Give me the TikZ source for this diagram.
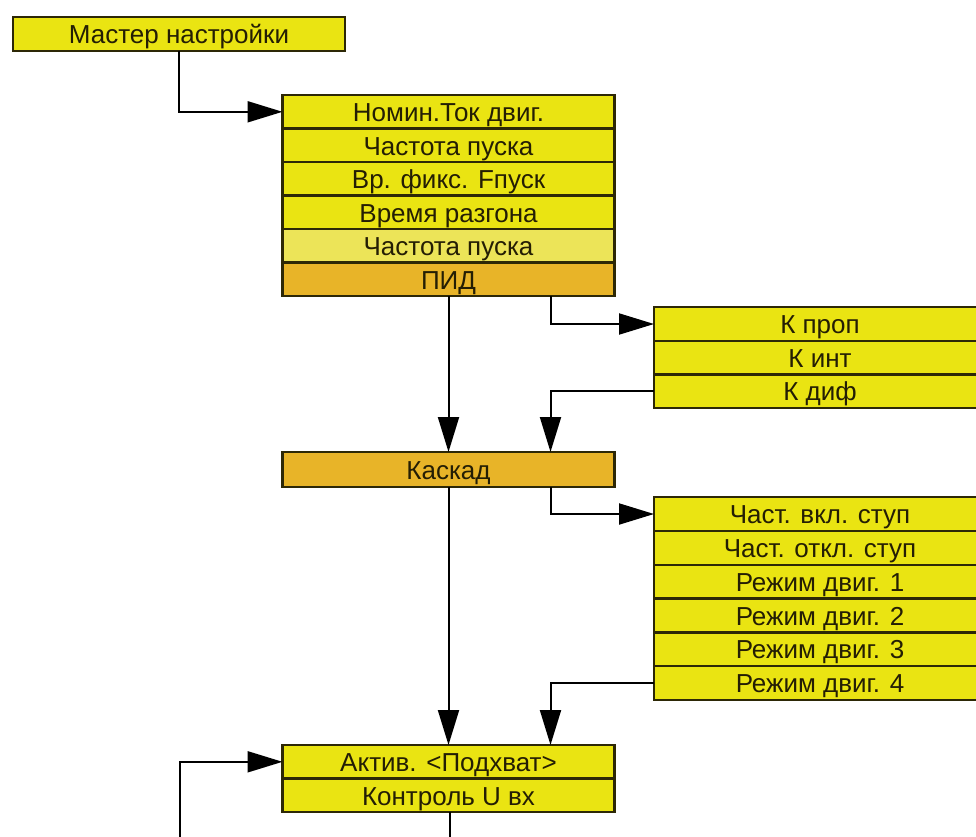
\documentclass[tikz,border=0pt]{standalone}
\usepackage{fontspec}
\setmainfont{Liberation Sans}
\usetikzlibrary{arrows.meta}
\definecolor{boxyellow}{RGB}{234,228,18}
\definecolor{paleyellow}{RGB}{236,228,88}
\definecolor{boxorange}{RGB}{232,180,40}
\definecolor{edgecol}{RGB}{45,40,6}
\definecolor{txtcol}{RGB}{36,30,4}
\tikzset{
  cell/.style={draw=edgecol, line width=2.2pt, fill=boxyellow, rectangle,
    inner sep=0pt, outer sep=0pt, minimum width=332pt, minimum height=33.6pt,
    text height=22.5pt, text depth=3pt,
    text=txtcol, font=\fontsize{26}{26}\selectfont},
  palecell/.style={cell, fill=paleyellow},
  hicell/.style={cell, fill=boxorange},
  link/.style={draw=black, line width=2pt},
  flow/.style={link, -{Triangle[length=35pt,width=21pt]}}
}
\begin{document}
\begin{tikzpicture}[x=1pt,y=-1pt]
\useasboundingbox (0,0) rectangle (976,836);
\fill[white] (0,0) rectangle (976,836);
\clip (0,0) rectangle (976,836);

% wizard entry
\node[cell] (master) at (179,34) {Мастер настройки};

% main parameter list
\node[cell] (m1) at (448.5,111.8) {Номин.Ток двиг.};
\node[cell] (m2) at (448.5,145.3) {Частота пуска};
\node[cell] (m3) at (448.5,178.8) {Вр. фикс. Fпуск};
\node[cell] (m4) at (448.5,212.3) {Время разгона};
\node[palecell] (m5) at (448.5,245.8) {Частота пуска};
\node[hicell] (pid) at (448.5,279.3) {ПИД};

% PID coefficients
\node[cell] (kp) at (820,324) {К проп};
\node[cell] (ki) at (820,357.6) {К инт};
\node[cell] (kd) at (820,391.2) {К диф};

% cascade
\node[hicell, minimum height=35pt] (kaskad) at (448.5,469.5) {Каскад};

% cascade parameters
\node[cell] (c1) at (820,514) {Част. вкл. ступ};
\node[cell] (c2) at (820,547.8) {Част. откл. ступ};
\node[cell] (c3) at (820,581.6) {Режим двиг. 1};
\node[cell] (c4) at (820,615.4) {Режим двиг. 2};
\node[cell] (c5) at (820,649.2) {Режим двиг. 3};
\node[cell] (c6) at (820,683) {Режим двиг. 4};

% pickup / input voltage
\node[cell] (a1) at (448.5,761.8) {Актив. <Подхват>};
\node[cell] (a2) at (448.5,795.3) {Контроль U вх};

% free ends leaving the bottom
\coordinate (down) at (450,845);
\coordinate (back) at (180,845);

% connectors
\draw[flow] (master.south) |- (m1.west);
\draw[flow] (pid.south) -- (kaskad.north);
\draw[flow] ([xshift=102pt]pid.south) |- (kp.west);
\draw[flow] (kd.west) -| ([xshift=102pt]kaskad.north);
\draw[flow] (kaskad.south) -- (a1.north);
\draw[flow] ([xshift=102pt]kaskad.south) |- (c1.west);
\draw[flow] (c6.west) -| ([xshift=102pt]a1.north);
\draw[link] (a2.south -| down) -- (down);
\draw[flow] (back) |- (a1.west);
\end{tikzpicture}
\end{document}
